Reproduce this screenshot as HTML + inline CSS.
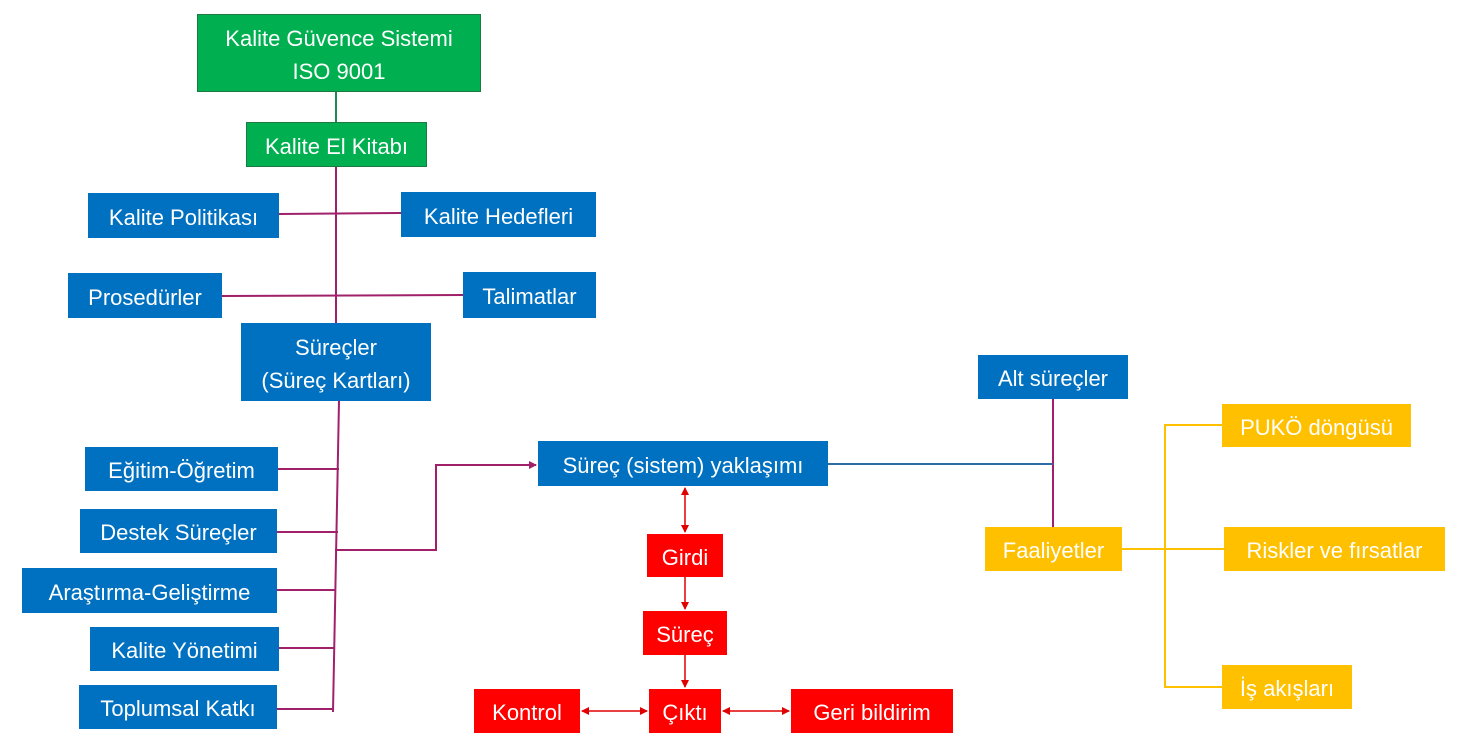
<!DOCTYPE html>
<html><head><meta charset="utf-8"><style>
body{margin:0;width:1462px;height:744px;background:#fff;position:relative;overflow:hidden;font-family:"Liberation Sans",sans-serif}
.b{position:absolute;display:flex;align-items:center;justify-content:center;text-align:center;color:#fff;font-size:22px;line-height:33px;box-sizing:border-box;padding-top:3px;white-space:nowrap}
.g{background:#00b050;border:1px solid #1a7a40}
.u{background:#0070c0}
.r{background:#ff0000}
.y{background:#ffc000}
svg{position:absolute;left:0;top:0}
</style></head><body>
<svg width="1462" height="744">
<defs>
<marker id="ap" markerWidth="8" markerHeight="8" refX="7" refY="4" orient="auto" markerUnits="userSpaceOnUse"><path d="M0,0 L8,4 L0,8z" fill="#a0206a"/></marker>
<marker id="ar" markerWidth="8" markerHeight="8" refX="7" refY="4" orient="auto-start-reverse" markerUnits="userSpaceOnUse"><path d="M0,0 L8,4 L0,8z" fill="#e00000"/></marker>
</defs>
<g fill="none" stroke-width="2">
<line x1="336" y1="92" x2="336" y2="122" stroke="#1a8a50"/>
<g stroke="#a0206a">
<line x1="336" y1="167" x2="336" y2="323"/>
<line x1="279" y1="214" x2="401" y2="213"/>
<line x1="222" y1="296" x2="463" y2="295"/>
<line x1="339" y1="401" x2="333" y2="712"/>
<line x1="278" y1="469" x2="339" y2="469"/>
<line x1="277" y1="532" x2="338" y2="532"/>
<line x1="277" y1="590" x2="336" y2="590"/>
<line x1="279" y1="648" x2="335" y2="648"/>
<line x1="277" y1="709" x2="334" y2="709"/>
<polyline points="335,550 436,550 436,465 536,465" marker-end="url(#ap)"/>
<line x1="1053" y1="399" x2="1053" y2="527"/>
</g>
<line x1="828" y1="464" x2="1053" y2="464" stroke="#2e6da4"/>
<g stroke="#ffc000">
<line x1="1122" y1="549" x2="1224" y2="549"/>
<polyline points="1222,425 1165,425 1165,687 1222,687"/>
</g>
<g stroke="#e00000" stroke-width="1.5">
<line x1="685" y1="488" x2="685" y2="532" marker-start="url(#ar)" marker-end="url(#ar)"/>
<line x1="685" y1="577" x2="685" y2="609" marker-end="url(#ar)"/>
<line x1="685" y1="655" x2="685" y2="687" marker-end="url(#ar)"/>
<line x1="582" y1="711" x2="647" y2="711" marker-start="url(#ar)" marker-end="url(#ar)"/>
<line x1="723" y1="711" x2="789" y2="711" marker-start="url(#ar)" marker-end="url(#ar)"/>
</g>
</g>
</svg>
<div class="b g" style="left:197px;top:14px;width:284px;height:78px">Kalite Güvence Sistemi<br>ISO 9001</div>
<div class="b g" style="left:246px;top:122px;width:181px;height:45px">Kalite El Kitabı</div>
<div class="b u" style="left:88px;top:193px;width:191px;height:45px">Kalite Politikası</div>
<div class="b u" style="left:401px;top:192px;width:195px;height:45px">Kalite Hedefleri</div>
<div class="b u" style="left:68px;top:273px;width:154px;height:45px">Prosedürler</div>
<div class="b u" style="left:463px;top:272px;width:133px;height:46px">Talimatlar</div>
<div class="b u" style="left:241px;top:323px;width:190px;height:78px">Süreçler<br>(Süreç Kartları)</div>
<div class="b u" style="left:85px;top:447px;width:193px;height:44px">Eğitim-Öğretim</div>
<div class="b u" style="left:80px;top:509px;width:197px;height:44px">Destek Süreçler</div>
<div class="b u" style="left:22px;top:568px;width:255px;height:45px">Araştırma-Geliştirme</div>
<div class="b u" style="left:90px;top:627px;width:189px;height:44px">Kalite Yönetimi</div>
<div class="b u" style="left:79px;top:685px;width:198px;height:44px">Toplumsal Katkı</div>
<div class="b u" style="left:538px;top:441px;width:290px;height:45px">Süreç (sistem) yaklaşımı</div>
<div class="b r" style="left:647px;top:534px;width:76px;height:43px">Girdi</div>
<div class="b r" style="left:643px;top:611px;width:84px;height:44px">Süreç</div>
<div class="b r" style="left:474px;top:689px;width:106px;height:44px">Kontrol</div>
<div class="b r" style="left:649px;top:689px;width:72px;height:44px">Çıktı</div>
<div class="b r" style="left:791px;top:689px;width:162px;height:44px">Geri bildirim</div>
<div class="b u" style="left:978px;top:355px;width:150px;height:44px">Alt süreçler</div>
<div class="b y" style="left:985px;top:527px;width:137px;height:44px">Faaliyetler</div>
<div class="b y" style="left:1222px;top:404px;width:189px;height:43px">PUKÖ döngüsü</div>
<div class="b y" style="left:1224px;top:527px;width:221px;height:44px">Riskler ve fırsatlar</div>
<div class="b y" style="left:1222px;top:665px;width:130px;height:44px">İş akışları</div>
</body></html>
